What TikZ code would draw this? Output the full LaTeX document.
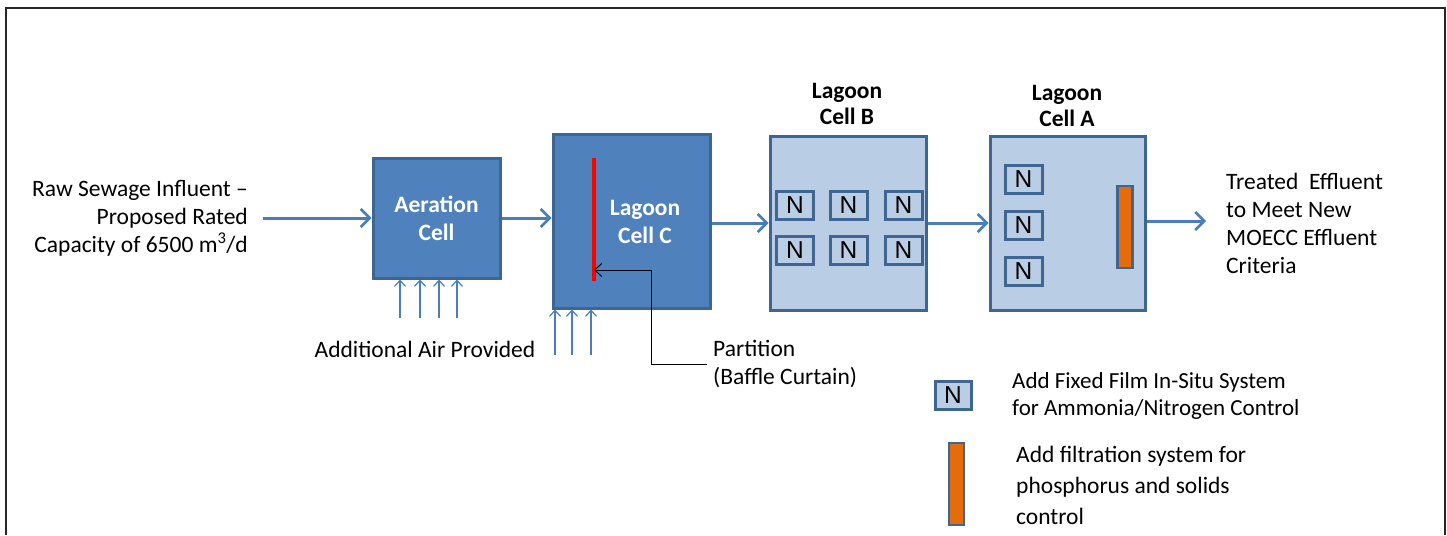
\documentclass[tikz,border=0pt]{standalone}
\usepackage{fontspec}
\setmainfont{Carlito}
\newfontfamily\nfont{Liberation Sans}
\usetikzlibrary{arrows.meta}
\definecolor{cellblue}{HTML}{4F81BD}
\definecolor{celllight}{HTML}{B9CDE5}
\definecolor{edge}{HTML}{3F6592}
\definecolor{flow}{HTML}{4A7EBB}
\definecolor{filt}{HTML}{E46C0A}

\begin{document}
\begin{tikzpicture}[x=1pt,y=-1pt,font=\fontsize{23.5}{28}\selectfont,
  cell/.style={draw=edge,line width=3pt,fill=cellblue,inner sep=0pt},
  lagoon/.style={draw=edge,line width=3pt,fill=celllight,inner sep=0pt},
  celltext/.style={text=white,font=\fontsize{23.5}{28}\selectfont\bfseries,align=center},
  title/.style={font=\fontsize{23.5}{26}\selectfont\bfseries,align=center},
  nbox/.style={draw=edge,line width=3pt,fill=celllight,minimum width=37,
    minimum height=28,inner sep=0pt,font=\nfont\fontsize{24.5}{24.5}\selectfont},
  filterbar/.style={draw=edge,line width=2.5pt,fill=filt,minimum width=15,
    minimum height=82,inner sep=0pt},
  flowarrow/.style={draw=flow,line width=3pt,
    -{Straight Barb[length=9pt,width=18pt,line width=2.5pt]}},
  airarrow/.style={draw=flow,line width=1.2pt,-{Straight Barb[length=6pt,width=11pt]}},
  note/.style={align=left,inner sep=0pt}]
  \useasboundingbox (0,0) rectangle (1447,535);
  \draw[line width=1.5pt,black!85] (6,535) -- (6,8) -- (1445,8) -- (1445,535);

  % process cells
  \node[cell,minimum width=127,minimum height=120] (aer) at (436.5,218) {};
  \node[celltext] (aertext) at (aer) {Aeration\\Cell};
  \node[cell,minimum width=157,minimum height=174] (cellC) at (631.5,221) {};
  \node[celltext] (ctext) at (645,222) {Lagoon\\Cell C};
  \node[lagoon,minimum width=156,minimum height=174] (cellB) at (848,223) {};
  \node[title] (btitle) at (847,104) {Lagoon\\Cell B};
  \node[lagoon,minimum width=155,minimum height=174] (cellA) at (1067.5,223) {};
  \node[title] (atitle) at (1067,106) {Lagoon\\Cell A};

  % fixed film units
  \foreach \x [count=\i] in {795,848.5,903.5}{
    \node[nbox] (nb\i) at (\x,205) {N};
    \node[nbox] (nc\i) at (\x,250) {N};
  }
  \foreach \y [count=\i] in {179,225,271}
    \node[nbox] (na\i) at (1023.5,\y) {N};
  \node[filterbar] (filtA) at (1125,227) {};

  % partition
  \coordinate (ptop) at (594,158);
  \coordinate (pbot) at (594,281);
  \coordinate (pmid) at (594,270);
  \coordinate (pbend) at (651,270);
  \draw[red,line width=3.5pt] (ptop) -- (pbot);

  % flow path
  \node[note,align=right,anchor=east] (influent) at (248,218)
    {Raw Sewage Influent --\\Proposed Rated\\Capacity of 6500 m\textsuperscript{3}/d};
  \coordinate (inlet) at (263,218);
  \coordinate (outlet) at (1206,221);
  \draw[flowarrow] (inlet) -- (aer.west);
  \draw[flowarrow] (aer.east) -- (aer.east -| cellC.west);
  \draw[flowarrow] (cellB.west -| cellC.east) -- (cellB.west);
  \draw[flowarrow] (cellB.east) -- (cellA.west);
  \draw[flowarrow] (cellA.east |- outlet) -- (outlet);
  \node[note,anchor=west] (effluent) at (1226,223.5)
    {Treated\ \ Effluent\\to Meet New\\MOECC Effluent\\Criteria};

  % air supply
  \foreach \x in {400,420,439,457}{
    \coordinate (a\x) at (\x,318);
    \draw[airarrow] (a\x) -- (a\x |- aer.south);
  }
  \foreach \x in {555,572,591}{
    \coordinate (c\x) at (\x,355);
    \draw[airarrow] (c\x) -- (c\x |- cellC.south);
  }
  \node (airnote) at (425,349) {Additional Air Provided};

  \node[note,anchor=west] (partnote) at (713,364) {Partition\\(Baffle Curtain)};
  \draw[black,line width=1pt,-{Straight Barb[length=7pt,width=13pt]}]
    ([xshift=-6pt]partnote.west) -| (pbend) -- (pmid);

  % legend
  \node[nbox,minimum width=36] (legN) at (953,395) {N};
  \node[note,anchor=west,font=\fontsize{23}{27}\selectfont] (legNtext) at (1012,395.5)
    {Add Fixed Film In-Situ System\\for Ammonia/Nitrogen Control};
  \node[filterbar] (legF) at (956.5,484) {};
  \node[note,anchor=west,font=\fontsize{23.5}{31}\selectfont] (legFtext) at (1016,485)
    {Add filtration system for\\phosphorus and solids\\control};
\end{tikzpicture}
\end{document}
